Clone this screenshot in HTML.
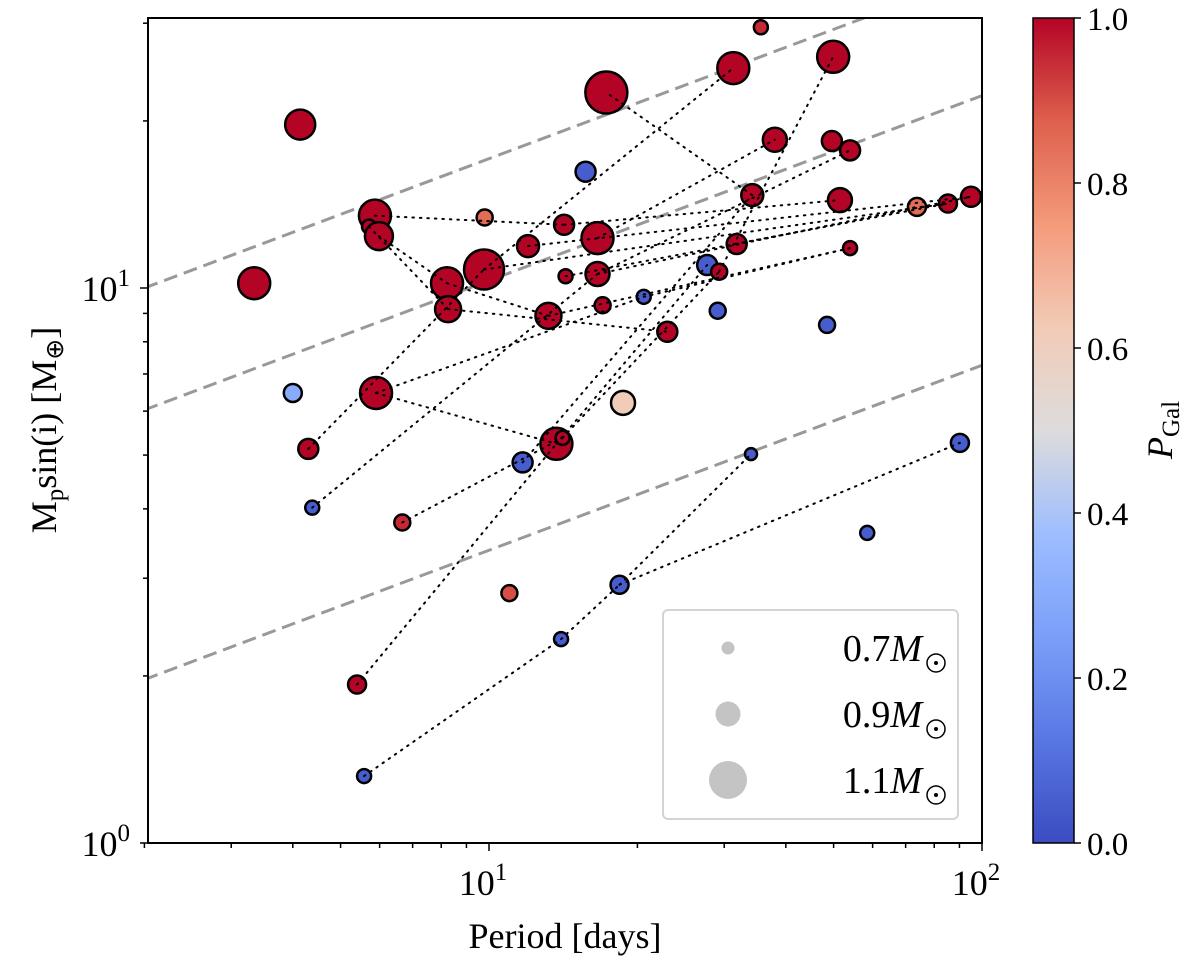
<!DOCTYPE html>
<html><head><meta charset="utf-8"><style>
body{margin:0;background:#fff}
svg{display:block;font-family:"Liberation Serif",serif}
</style></head><body>
<svg id="chart" width="1200" height="966" viewBox="0 0 1200 966">
<defs>
<linearGradient id="cw" x1="0" y1="1" x2="0" y2="0">
<stop offset="0" stop-color="#3b4cc0"/><stop offset="0.125" stop-color="#5977e3"/>
<stop offset="0.25" stop-color="#7b9ff9"/><stop offset="0.375" stop-color="#9ebeff"/>
<stop offset="0.5" stop-color="#dddcdc"/><stop offset="0.625" stop-color="#f2cbb7"/>
<stop offset="0.75" stop-color="#f49a7b"/><stop offset="0.875" stop-color="#de604d"/>
<stop offset="1" stop-color="#b40426"/></linearGradient>
<clipPath id="clip"><rect x="148" y="18" width="834" height="825"/></clipPath>
</defs>
<g id="plot" clip-path="url(#clip)"></g>
<g id="axes"></g>
<g>
<rect x="663" y="610" width="295" height="209" rx="5" fill="#fff" stroke="#d4d4d4" stroke-width="2"/>
<circle cx="728" cy="648" r="6.5" fill="#c4c4c4"/>
<circle cx="728" cy="714" r="12.5" fill="#c4c4c4"/>
<circle cx="728" cy="780" r="19" fill="#c4c4c4"/>
<text x="922" y="661" font-size="38" text-anchor="end">0.7<tspan font-style="italic">M</tspan></text>
<text x="922" y="727" font-size="38" text-anchor="end">0.9<tspan font-style="italic">M</tspan></text>
<text x="922" y="793" font-size="38" text-anchor="end">1.1<tspan font-style="italic">M</tspan></text>
<g fill="none" stroke="#000" stroke-width="1.5">
<circle cx="936" cy="663" r="9"/><circle cx="936" cy="729" r="9"/><circle cx="936" cy="795" r="9"/></g>
<g fill="#000"><circle cx="936" cy="663" r="2"/><circle cx="936" cy="729" r="2"/><circle cx="936" cy="795" r="2"/></g>
</g>
<g>
<rect x="1033" y="18" width="41" height="825" fill="url(#cw)" stroke="#000" stroke-width="1.5"/>
<g id="cbticks"></g>
<text transform="translate(1172,430) rotate(-90)" font-size="36" text-anchor="middle"><tspan font-style="italic">P</tspan><tspan font-size="25" dy="7">Gal</tspan></text>
</g>
<text x="565" y="948" font-size="36" text-anchor="middle">Period [days]</text>
<text transform="translate(56,430) rotate(-90)" font-size="36" text-anchor="middle">M<tspan font-size="25" dy="7">p</tspan><tspan dy="-7">sin(i) [M</tspan><tspan font-size="25" dy="7">⊕</tspan><tspan dy="-7">]</tspan></text>
</svg>
<script>
const periods=[35.6,31.3,49.9,17.3,4.14,38.0,49.6,54.0,15.7,34.2,51.5,95,85.3,73.8,5.87,5.71,5.98,9.8,14.2,12.0,16.6,31.8,54,27.7,29.3,9.77,16.6,14.3,3.34,8.22,20.6,17.0,8.26,29.1,13.2,48.5,23.0,4.0,5.90,18.7,13.7,14.1,4.30,11.7,90.2,34.0,4.38,6.67,58.5,11.0,18.4,14.0,5.40,5.58];
const masses=[29.5,24.9,26.1,22.5,19.7,18.5,18.4,17.7,16.2,14.7,14.4,14.6,14.2,14.0,13.5,12.9,12.4,13.4,13.0,11.9,12.3,12.0,11.8,11.0,10.7,10.8,10.6,10.5,10.2,10.2,9.64,9.31,9.16,9.10,8.91,8.58,8.34,6.47,6.47,6.21,5.24,5.37,5.13,4.85,5.26,5.02,4.02,3.78,3.62,2.82,2.92,2.33,1.93,1.32];
const pgal=[0.95,1,1,1,1,1,1,1,0.05,1,1,1,1,0.85,1,1,1,0.85,1,1,1,1,1,0.05,1,1,1,1,1,1,0.05,1,1,0.05,1,0.05,1,0.3,1,0.62,1,1,1,0.05,0.05,0.05,0.05,0.95,0.05,0.9,0.05,0.05,1,0.05];
const radii=[7,16,16,21,15,12,10,10,10,11,12,10,9,9,16,7,14,8,10,11,16,10,7,10,8,20,12,7,16,16,7,8,13,8,13,8,10,9,16,12,16,7,10,10,9,6,7,8,7,8,9,7,9,7];
const links=[[53,51],[51,50],[50,44],[50,45],[52,40],[40,23],[46,26],[26,13],[42,25],[25,1],[38,40],[14,18],[18,10],[16,29],[29,34],[34,22],[47,41],[41,24],[24,2],[30,22],[25,12],[19,11],[20,5],[26,7],[15,32],[32,36],[43,9],[9,3],[21,11],[27,12],[38,30]];
const lineCoef=[10,6.03,1.97];
const xTicks=[10,100], yTicks=[1,10], cbTicks=[0,0.2,0.4,0.6,0.8,1.0];
const ns="http://www.w3.org/2000/svg";
const X=p=>489+493*(Math.log10(p)-1);
const Y=m=>288-555*(Math.log10(m)-1);
const CB=v=>843-825*v;
const stops=[[0,[59,76,192]],[0.125,[89,119,227]],[0.25,[123,159,249]],[0.375,[158,190,255]],[0.5,[221,220,220]],[0.625,[242,203,183]],[0.75,[244,154,123]],[0.875,[222,96,77]],[1,[180,4,38]]];
function cmap(v){for(let i=1;i<stops.length;i++){if(v<=stops[i][0]){const a=stops[i-1],b=stops[i],t=(v-a[0])/(b[0]-a[0]);return 'rgb('+a[1].map((c,k)=>Math.round(c+(b[1][k]-c)*t)).join(',')+')';}}return 'rgb(180,4,38)';}
function mk(tag,attrs,parent){const e=document.createElementNS(ns,tag);for(const k in attrs)e.setAttribute(k,attrs[k]);parent.appendChild(e);return e;}
const plot=document.getElementById('plot'), axes=document.getElementById('axes');
lineCoef.forEach((c,i)=>{const l=mk('line',{x1:X(2),y1:Y(c),x2:X(100),y2:Y(c*Math.cbrt(50)),stroke:'#999',"stroke-width":3,"stroke-dasharray":"14,7"},plot);

});
periods.forEach((p,i)=>{const c=mk('circle',{cx:X(p),cy:Y(masses[i]),r:radii[i],fill:cmap(pgal[i]),stroke:'#000',"stroke-width":2.5},plot);

});
links.forEach(([a,b])=>{const l=mk('line',{x1:X(periods[a]),y1:Y(masses[a]),x2:X(periods[b]),y2:Y(masses[b]),stroke:'#000',"stroke-width":2,"stroke-dasharray":"1.5,6","stroke-linecap":"round"},plot);

});
mk('rect',{x:148,y:18,width:834,height:825,fill:'none',stroke:'#000',"stroke-width":2},axes);
for(let d=0;d<2;d++)for(let k=1;k<10;k++){const p=Math.pow(10,d)*k;if(p<2)continue;const maj=k===1;const x=X(p);
mk('line',{x1:x,y1:843,x2:x,y2:843+(maj?8:5),stroke:'#000',"stroke-width":1.5},axes);}
mk('line',{x1:X(100),y1:843,x2:X(100),y2:851,stroke:'#000',"stroke-width":1.5},axes);
for(let d=0;d<2;d++)for(let k=1;k<10;k++){const m=Math.pow(10,d)*k;if(m>30.6)continue;const maj=k===1;const y=Y(m);
mk('line',{x1:148,y1:y,x2:148-(maj?8:5),y2:y,stroke:'#000',"stroke-width":1.5},axes);}
xTicks.forEach(v=>{const t=mk('text',{x:X(v)-6,y:895,"font-size":36,"text-anchor":"middle"},axes);t.innerHTML='10<tspan font-size="25" dy="-15">'+Math.log10(v)+'</tspan>';

});
yTicks.forEach(v=>{const t=mk('text',{x:130,y:Y(v)+13,"font-size":36,"text-anchor":"end"},axes);t.innerHTML='10<tspan font-size="25" dy="-15">'+Math.log10(v)+'</tspan>';

});
const cbt=document.getElementById('cbticks');
cbTicks.forEach(v=>{mk('line',{x1:1074,y1:CB(v),x2:1081,y2:CB(v),stroke:'#000',"stroke-width":1.5},cbt);
const t=mk('text',{x:1087,y:CB(v)+12,"font-size":33},cbt);t.textContent=v.toFixed(1);

});
</script>
</body></html>
